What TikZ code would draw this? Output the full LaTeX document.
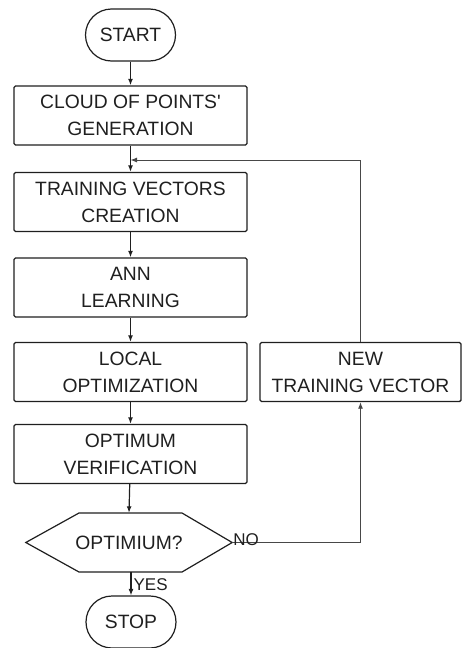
\documentclass[tikz,border=0pt]{standalone}
\usepackage{fontspec}
\setmainfont{Liberation Sans}
\usetikzlibrary{arrows.meta}

\begin{document}
\begin{tikzpicture}[x=1pt,y=-1pt,
  every node/.style={font=\fontsize{19.3}{27}\selectfont, text=black!88, align=center},
  procbox/.style={draw=black!88, line width=1.4pt, rounded corners=1.5pt,
    minimum width=233pt, minimum height=59pt, inner sep=0pt},
  term/.style={draw=black!88, line width=1.2pt, rounded corners=26pt,
    minimum width=90pt, minimum height=52pt, inner sep=0pt},
  flow/.style={-{Latex[length=6.5pt,width=5pt]}, line width=1.2pt, draw=black!88},
  loopline/.style={-{Latex[length=6.5pt,width=5pt]}, line width=0.9pt, draw=black!72},
  answer/.style={font=\fontsize{17}{20}\selectfont, inner sep=0pt}
]
\useasboundingbox (0,0) rectangle (462,648);

% main column
\node[term]    (start) at (130.5,35)  {START};
\node[procbox] (cloud) at (130.5,115.5) {CLOUD OF POINTS\textquotesingle\\GENERATION};
\node[procbox] (train) at (130.5,202) {TRAINING VECTORS\\CREATION};
\node[procbox] (ann)   at (130.5,287.5) {ANN\\LEARNING};
\node[procbox] (local) at (130.5,372) {LOCAL\\OPTIMIZATION};
\node[procbox] (verif) at (130.5,454) {OPTIMUM\\VERIFICATION};
\node[minimum width=206pt, minimum height=59pt, inner sep=0pt] (dec) at (129,542.5) {OPTIMIUM?};
\node[term]    (stop)  at (131,622) {STOP};

% side box of the loop
\node[procbox, minimum width=201pt] (newvec) at (360.5,372) {NEW\\TRAINING VECTOR};

% decision hexagon
\draw[draw=black!88, line width=1.2pt]
  (dec.west) -- (79,513) -- (182,513) -- (dec.east) -- (182,572) -- (79,572) -- cycle;

% straight flow
\draw[flow] (start) -- (cloud);
\draw[flow] (cloud) -- (train);
\draw[flow] (train) -- (ann);
\draw[flow] (ann) -- (local);
\draw[flow] (local) -- (verif);
\draw[flow] (verif) -- (dec.north);
\draw[flow] (dec.south -| stop.north) -- (stop.north)
  node[answer, anchor=north west, pos=0, xshift=2pt, yshift=-6pt] {YES};

% loop back
\coordinate (join) at (130.5,160);
\draw[loopline] (dec.east) -- (dec.east -| newvec.south) -- (newvec.south);
\node[answer, anchor=south west] at ([xshift=1pt,yshift=-3pt]dec.east) {NO};
\draw[loopline] (newvec.north) -- (newvec.north |- join) -- (join);
\end{tikzpicture}
\end{document}
